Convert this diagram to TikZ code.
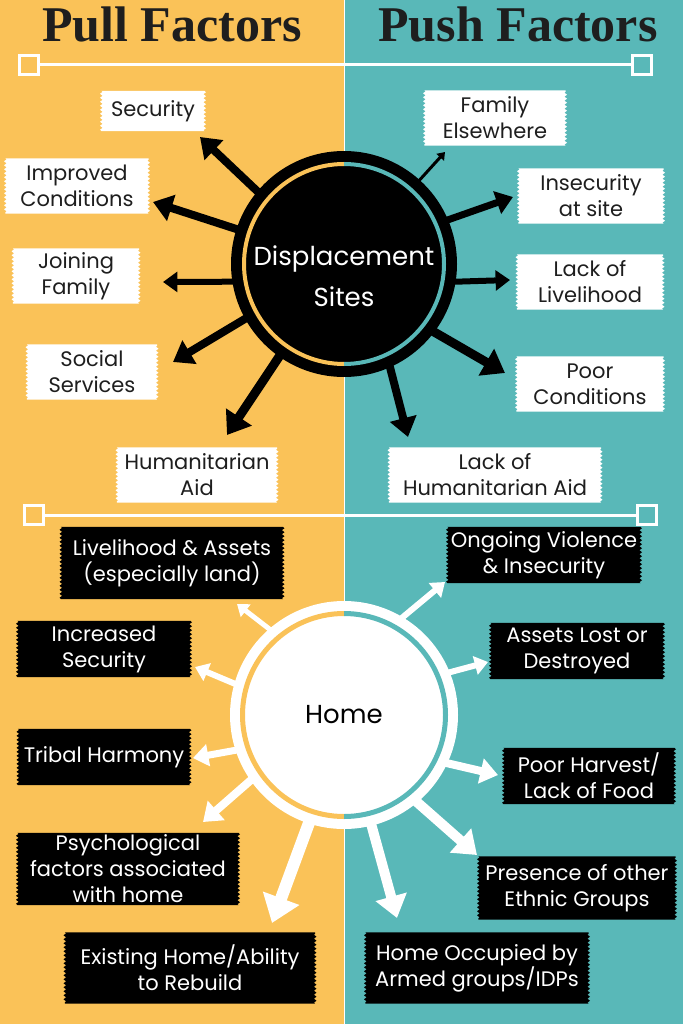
\documentclass[tikz,border=0pt]{standalone}
\usepackage{fontspec}
\setmainfont{Poppins}
\newfontfamily\headfont{Liberation Serif}
\usepackage{tikz}
\usetikzlibrary{positioning}
\usetikzlibrary{arrows.meta}
\usetikzlibrary{decorations.pathmorphing}
\definecolor{pullyellow}{RGB}{250,194,88}
\definecolor{pushteal}{RGB}{89,184,184}
\definecolor{inkgray}{RGB}{30,30,30}
\newcommand{\ticketfont}{\fontsize{21}{26}\selectfont}
\pgfdeclarelayer{bglayer}
\pgfdeclarelayer{boxlayer}
\pgfsetlayers{bglayer,boxlayer,main}
\tikzset{
  teeth/.style={decoration={zigzag,segment length=4pt,amplitude=1.3pt}},
  uplabel/.style={text=inkgray, font=\ticketfont, align=center, inner sep=0pt, minimum height=55pt},
  downlabel/.style={text=white, font=\ticketfont, align=center, inner sep=0pt, minimum height=56pt},
  pullarrow/.style={draw=black, line width=#1, -{Triangle[width=0pt 3.3,length=0pt 2.4]}, shorten <=-4pt},
  homearrow/.style={draw=white, line width=#1, -{Triangle[width=0pt 3.1,length=0pt 2.2]}, shorten <=-4pt},
  sq/.style={draw=white, line width=3pt, minimum size=19pt, inner sep=0pt},
  rule/.style={draw=white, line width=3pt}
}

\begin{document}
\begin{tikzpicture}[x=1pt,y=-1pt]
            \useasboundingbox (0,0) rectangle (683,1024);
            % Background halves
            \begin{pgfonlayer}{bglayer}
            \fill[pullyellow] (0,0) rectangle (344,1024);
            \fill[pushteal] (344,0) rectangle (683,1024);
            \draw[white, line width=0.8pt] (344,0) -- (344,1024);
            \end{pgfonlayer}

            % Headings
            \node[font=\headfont\bfseries\fontsize{50}{50}\selectfont, text=inkgray, inner sep=0pt] (pull) at (172,24) {Pull Factors};
            \node[font=\headfont\bfseries\fontsize{50}{50}\selectfont, text=inkgray, inner sep=0pt] (push) at (518,24) {Push Factors};
            \node[sq] (sqtl) at (29,65) {};
            \node[sq] (sqtr) at (642,65) {};
            \draw[rule] (sqtl) -- (sqtr);
            \node[sq] (sqml) at (34,515) {};
            \node[sq] (sqmr) at (647,515) {};
            \draw[rule] (sqml) -- (sqmr);

            % Displacement sites
            \node[circle, fill=black, minimum size=226pt, inner sep=0pt] (ds) at (344,264) {};
            \begin{scope}
            \clip (0,0) rectangle (344,1024);
            \draw[pullyellow, line width=4pt] (ds.center) circle[radius=100pt];
            \end{scope}
            \begin{scope}
            \clip (344,0) rectangle (683,1024);
            \draw[pushteal, line width=4pt] (ds.center) circle[radius=100pt];
            \end{scope}
            \node[text=white, font=\fontsize{26}{41}\selectfont, align=center, inner sep=0pt] (dstext) at (344,276) {Displacement\\Sites};

            % Home
            \node[circle, fill=white, minimum size=228pt, inner sep=0pt, font=\fontsize{26}{30}\selectfont] (home) at (344,715) {Home};
            \begin{scope}
            \clip (0,0) rectangle (344,1024);
            \draw[pullyellow, line width=5pt] (home.center) circle[radius=101.5pt];
            \end{scope}
            \begin{scope}
            \clip (344,0) rectangle (683,1024);
            \draw[pushteal, line width=5pt] (home.center) circle[radius=101.5pt];
            \end{scope}

            % Upper labels
            \node[uplabel, minimum width=103pt, minimum height=40pt] (sec) at (153,111) {Security};
            \node[uplabel, minimum width=143pt] (imp) at (77,186) {Improved\\Conditions};
            \node[uplabel, minimum width=126pt] (join) at (76,276) {Joining\\Family};
            \node[uplabel, minimum width=130pt] (soc) at (92,372) {Social\\Services};
            \node[uplabel, minimum width=160pt] (hum) at (197,475) {Humanitarian\\Aid};
            \node[uplabel, minimum width=141pt] (fam) at (495,118) {Family\\Elsewhere};
            \node[uplabel, minimum width=145pt] (insec) at (591,196) {Insecurity\\at site};
            \node[uplabel, minimum width=146pt] (liv) at (590,282) {Lack of\\Livelihood};
            \node[uplabel, minimum width=147pt] (poor) at (590,384) {Poor\\Conditions};
            \node[uplabel, minimum width=212pt] (lha) at (495,475) {Lack of\\Humanitarian Aid};

            % Lower labels
            \node[downlabel, minimum width=222pt, minimum height=72pt] (lvh) at (172,563) {Livelihood \& Assets\\(especially land)};
            \node[downlabel, minimum width=173pt] (incs) at (104,649) {Increased\\Security};
            \node[downlabel, minimum width=172pt] (trib) at (104,757) {Tribal Harmony};
            \node[downlabel, minimum width=221pt, minimum height=72pt] (psy) at (128,869) {Psychological\\factors associated\\with home};
            \node[downlabel, minimum width=250pt, minimum height=71pt] (exist) at (190,968) {Existing Home/Ability\\to Rebuild};
            \node[downlabel, minimum width=193pt] (ongo) at (544,555) {Ongoing Violence\\\& Insecurity};
            \node[downlabel, minimum width=173pt] (alost) at (577,651) {Assets Lost or\\Destroyed};
            \node[downlabel, minimum width=171pt] (harv) at (589,776) {Poor Harvest/\\Lack of Food};
            \node[downlabel, minimum width=197pt, minimum height=63pt] (pres) at (577,888) {Presence of other\\Ethnic Groups};
            \node[downlabel, minimum width=223pt, minimum height=71pt] (occ) at (477,968) {Home Occupied by\\Armed groups/IDPs};

            % Ticket shapes behind the labels
            \begin{pgfonlayer}{boxlayer}
            \foreach \n in {sec,imp,join,soc,hum,fam,insec,liv,poor,lha}
                \fill[white] (\n.north west) decorate[teeth]{-- (\n.south west)} -- (\n.south east) decorate[teeth]{-- (\n.north east)} -- cycle;
            \foreach \n in {lvh,incs,trib,psy,exist,ongo,alost,harv,pres,occ}
                \fill[black] (\n.north west) decorate[teeth]{-- (\n.south west)} -- (\n.south east) decorate[teeth]{-- (\n.north east)} -- cycle;
            \end{pgfonlayer}

            % Arrow tips
            \coordinate (tsec) at (200,137);
            \coordinate (timp) at (153,202);
            \coordinate (tjoin) at (163,282);
            \coordinate (tsoc) at (173,362);
            \coordinate (thum) at (227,435);
            \coordinate (tfam) at (445,152);
            \coordinate (tinsec) at (513,197);
            \coordinate (tliv) at (510,280);
            \coordinate (tpoor) at (505,373);
            \coordinate (tlha) at (408,437);
            \coordinate (tlvh) at (237,604);
            \coordinate (tincs) at (195,667);
            \coordinate (ttrib) at (193,758);
            \coordinate (tpsy) at (203,822);
            \coordinate (texist) at (272,923);
            \coordinate (tongo) at (445,582);
            \coordinate (talost) at (488,662);
            \coordinate (tharv) at (498,775);
            \coordinate (tpres) at (477,855);
            \coordinate (tocc) at (397,918);

            % Arrows from the sites
            \draw[pullarrow=8pt] (ds.140) -- (tsec);
            \draw[pullarrow=8pt] (ds.162) -- (timp);
            \draw[pullarrow=6pt] (ds.189) -- (tjoin);
            \draw[pullarrow=8pt] (ds.209) -- (tsoc);
            \draw[pullarrow=9pt] (ds.235) -- (thum);
            \draw[pullarrow=3pt] (ds.48) -- (tfam);
            \draw[pullarrow=7pt] (ds.23) -- (tinsec);
            \draw[pullarrow=6pt] (ds.-9) -- (tliv);
            \draw[pullarrow=9pt] (ds.-37) -- (tpoor);
            \draw[pullarrow=8pt] (ds.-66) -- (tlha);

            % Arrows from home
            \draw[homearrow=5pt] (home.131) -- (tlvh);
            \draw[homearrow=6pt] (home.164) -- (tincs);
            \draw[homearrow=7pt] (home.198) -- (ttrib);
            \draw[homearrow=8pt] (home.215) -- (tpsy);
            \draw[homearrow=12pt] (home.252) -- (texist);
            \draw[homearrow=6pt] (home.59) -- (tongo);
            \draw[homearrow=6pt] (home.22) -- (talost);
            \draw[homearrow=8pt] (home.-25) -- (tharv);
            \draw[homearrow=10pt] (home.-50) -- (tpres);
            \draw[homearrow=10pt] (home.-76) -- (tocc);
        \end{tikzpicture}
\end{document}
